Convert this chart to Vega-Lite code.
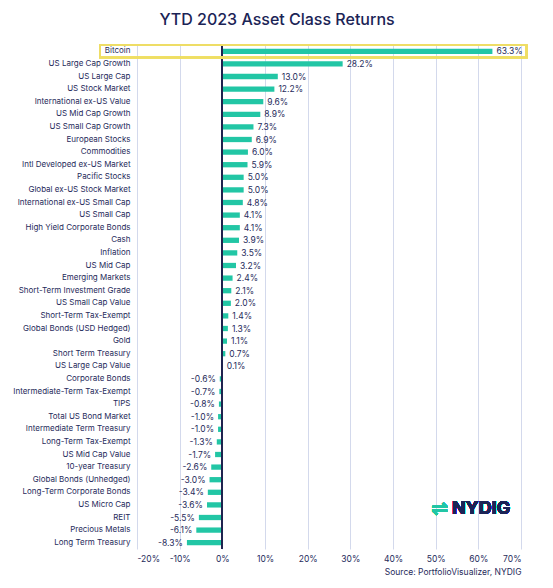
{
  "$schema": "https://vega.github.io/schema/vega-lite/v6.json",
  "width": 384,
  "height": 504,
  "autosize": "none",
  "padding": {"left": 137, "top": 45, "right": 32, "bottom": 39},
  "background": "white",
  "title": {"text": "YTD 2023 Asset Class Returns", "font": "Inter", "fontSize": 16, "fontWeight": 500, "color": "#1b2456", "anchor": "middle", "dx": -52, "offset": 16},
  "config": {
    "view": {"stroke": null},
    "font": "Inter",
    "axis": {"labelFont": "Inter", "titleFont": "Inter"}
  },
  "data": {"values": [
    {"name": "Bitcoin", "value": 63.3, "label": "63.3%"},
    {"name": "US Large Cap Growth", "value": 28.2, "label": "28.2%"},
    {"name": "US Large Cap", "value": 13.0, "label": "13.0%"},
    {"name": "US Stock Market", "value": 12.2, "label": "12.2%"},
    {"name": "International ex-US Value", "value": 9.6, "label": "9.6%"},
    {"name": "US Mid Cap Growth", "value": 8.9, "label": "8.9%"},
    {"name": "US Small Cap Growth", "value": 7.3, "label": "7.3%"},
    {"name": "European Stocks", "value": 6.9, "label": "6.9%"},
    {"name": "Commodities", "value": 6.0, "label": "6.0%"},
    {"name": "Intl Developed ex-US Market", "value": 5.9, "label": "5.9%"},
    {"name": "Pacific Stocks", "value": 5.0, "label": "5.0%"},
    {"name": "Global ex-US Stock Market", "value": 5.0, "label": "5.0%"},
    {"name": "International ex-US Small Cap", "value": 4.8, "label": "4.8%"},
    {"name": "US Small Cap", "value": 4.1, "label": "4.1%"},
    {"name": "High Yield Corporate Bonds", "value": 4.1, "label": "4.1%"},
    {"name": "Cash", "value": 3.9, "label": "3.9%"},
    {"name": "Inflation", "value": 3.5, "label": "3.5%"},
    {"name": "US Mid Cap", "value": 3.2, "label": "3.2%"},
    {"name": "Emerging Markets", "value": 2.4, "label": "2.4%"},
    {"name": "Short-Term Investment Grade", "value": 2.1, "label": "2.1%"},
    {"name": "US Small Cap Value", "value": 2.0, "label": "2.0%"},
    {"name": "Short-Term Tax-Exempt", "value": 1.4, "label": "1.4%"},
    {"name": "Global Bonds (USD Hedged)", "value": 1.3, "label": "1.3%"},
    {"name": "Gold", "value": 1.1, "label": "1.1%"},
    {"name": "Short Term Treasury", "value": 0.7, "label": "0.7%"},
    {"name": "US Large Cap Value", "value": 0.1, "label": "0.1%"},
    {"name": "Corporate Bonds", "value": -0.6, "label": "-0.6%"},
    {"name": "Intermediate-Term Tax-Exempt", "value": -0.7, "label": "-0.7%"},
    {"name": "TIPS", "value": -0.8, "label": "-0.8%"},
    {"name": "Total US Bond Market", "value": -1.0, "label": "-1.0%"},
    {"name": "Intermediate Term Treasury", "value": -1.0, "label": "-1.0%"},
    {"name": "Long-Term Tax-Exempt", "value": -1.3, "label": "-1.3%"},
    {"name": "US Mid Cap Value", "value": -1.7, "label": "-1.7%"},
    {"name": "10-year Treasury", "value": -2.6, "label": "-2.6%"},
    {"name": "Global Bonds (Unhedged)", "value": -3.0, "label": "-3.0%"},
    {"name": "Long-Term Corporate Bonds", "value": -3.4, "label": "-3.4%"},
    {"name": "US Micro Cap", "value": -3.6, "label": "-3.6%"},
    {"name": "REIT", "value": -5.5, "label": "-5.5%"},
    {"name": "Precious Metals", "value": -6.1, "label": "-6.1%"},
    {"name": "Long Term Treasury", "value": -8.3, "label": "-8.3%"}
  ]},
  "layer": [
    {
      "mark": {"type": "bar", "color": "#22c6a5", "height": {"band": 0.42}},
      "encoding": {
        "y": {"field": "name", "type": "nominal", "sort": null,
              "scale": {"paddingInner": 0, "paddingOuter": 0},
              "axis": {"title": null, "domain": false, "ticks": false, "labelPadding": 7, "labelFontSize": 8, "labelColor": "#1f2b5b", "labelLimit": 200}},
        "x": {"field": "value", "type": "quantitative",
              "scale": {"domain": [-20, 70], "nice": false, "zero": false},
              "axis": {"values": [-20, -10, 0, 10, 20, 30, 40, 50, 60, 70], "labelExpr": "datum.value + '%'",
                       "domain": false, "ticks": false, "labelPadding": 5, "labelFontSize": 8.5, "labelColor": "#1f2b5b",
                       "grid": true, "gridColor": "#d3d9ec", "gridWidth": 1,
                       "title": "Source: PortfolioVisualizer, NYDIG", "titleAnchor": "end", "titleFontSize": 8.5, "titleFontWeight": "normal", "titleColor": "#1f2b5b", "titlePadding": 5}}
      }
    },
    {
      "mark": {"type": "rule", "color": "#1f2550", "strokeWidth": 1.3},
      "encoding": {"x": {"datum": 0}}
    },
    {
      "transform": [{"filter": "datum.value >= 0"}],
      "mark": {"type": "text", "align": "left", "dx": 4, "fontSize": 8.5, "color": "#1f2b5b"},
      "encoding": {
        "y": {"field": "name", "type": "nominal", "sort": null},
        "x": {"field": "value", "type": "quantitative"},
        "text": {"field": "label"}
      }
    },
    {
      "transform": [{"filter": "datum.value < 0"}],
      "mark": {"type": "text", "align": "right", "dx": -4, "fontSize": 8.5, "color": "#1f2b5b"},
      "encoding": {
        "y": {"field": "name", "type": "nominal", "sort": null},
        "x": {"field": "value", "type": "quantitative"},
        "text": {"field": "label"}
      }
    },
    {
      "mark": {"type": "rect", "filled": false, "stroke": "#eedd66", "strokeWidth": 1.5},
      "encoding": {
        "y": {"datum": "Bitcoin"},
        "x": {"datum": -28.7},
        "x2": {"datum": 71.3}
      }
    },
    {
      "mark": {"type": "text", "align": "left", "fontSize": 18, "fontWeight": "bold", "font": "Inter", "color": "#1b2456", "dy": 4},
      "encoding": {
        "y": {"datum": "US Micro Cap"},
        "x": {"datum": 53.8},
        "text": {"value": "NYDIG"}
      }
    },
    {
      "mark": {"type": "text", "align": "center", "fontSize": 20, "fontWeight": "bold", "font": "DejaVu Sans", "color": "#22c6a5", "dy": 4},
      "encoding": {
        "y": {"datum": "US Micro Cap"},
        "x": {"datum": 51.0},
        "text": {"value": "⇌"}
      }
    }
  ]
}
